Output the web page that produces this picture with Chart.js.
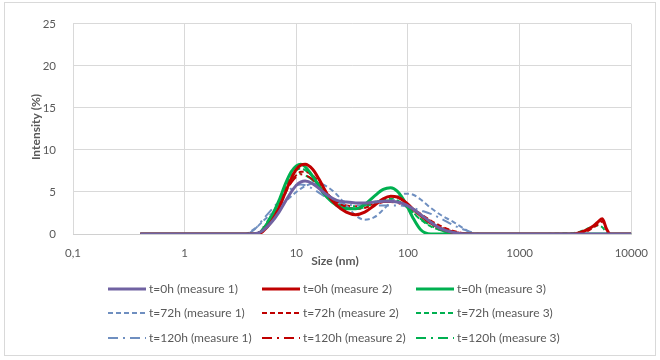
<!DOCTYPE html>
<html lang="en">
<head>
  <meta charset="UTF-8">
  <title>Intensity size distribution</title>
  <script src="https://cdn.jsdelivr.net/npm/chart.js"></script>
  <style>
    body {
      margin: 0;
      background: #fff;
    }
    .wrap {
      width: 660px;
      height: 360px;
      position: relative;
    }
  </style>
</head>
<body>

<div class="wrap">
  <canvas id="sizeChart" width="660" height="360"></canvas>
</div>

<script>
// size bins (nm)
const sizes = [0.4, 3, 3.5, 4, 4.5, 5, 6, 7, 8, 9, 10, 11, 12, 14, 16, 19, 23, 28, 34, 41, 50, 60, 70, 80, 95, 110, 130, 160, 200, 250, 320, 400, 500, 1000, 3000, 3500, 4000, 4500, 5000, 5500, 6000, 6500, 10000];

// intensity (%) per bin
const t0m1   = [0,0,0,0,0.1,0.4,1.4,2.6,3.9,5.0,5.8,6.2,6.3,6.0,5.4,4.6,4.0,3.8,3.7,3.7,3.8,3.9,3.9,3.8,3.5,3.0,2.3,1.4,0.6,0.2,0,0,0,0,0,0,0,0,0,0,0,0,0];
const t0m2   = [0,0,0,0,0,0.3,1.5,3.1,5.0,6.6,7.7,8.2,8.3,7.7,6.5,4.7,3.4,2.6,2.3,2.6,3.4,4.2,4.5,4.4,3.8,3.0,2.2,1.3,0.6,0.2,0,0,0,0,0,0.2,0.5,0.9,1.4,1.8,0.6,0,0];
const t0m3   = [0,0,0,0,0,0.5,2.1,4.0,6.0,7.4,8.1,8.3,8.0,6.9,5.7,4.3,3.4,3.0,3.0,3.5,4.5,5.3,5.5,5.1,3.7,2.0,0.5,0,0,0,0,0,0,0,0,0,0,0,0,0,0,0,0];
const t72m1  = [0,0,0,0.4,0.9,1.5,2.4,3.2,3.9,4.5,5.0,5.4,5.7,6.0,6.0,5.6,4.7,3.4,2.2,1.7,2.0,2.9,3.8,4.4,4.8,4.7,4.1,3.1,2.2,1.5,0.6,0,0,0,0,0,0,0,0,0,0,0,0];
const t72m2  = [0,0,0,0,0,0.5,1.8,3.3,4.9,6.2,7.0,7.4,7.4,7.0,6.1,4.8,3.8,3.2,3.0,3.1,3.5,3.8,3.9,3.8,3.5,3.0,2.4,1.6,0.9,0.4,0.1,0,0,0,0,0.1,0.3,0.7,1.1,1.5,0.5,0,0];
const t72m3  = [0,0,0,0,0,0.6,2.2,3.9,5.6,6.9,7.6,7.8,7.6,6.8,5.7,4.4,3.5,3.1,3.0,3.2,3.7,4.1,4.2,4.0,3.4,2.6,1.7,0.9,0.4,0.1,0,0,0,0,0.1,0.3,0.6,0.9,1.0,0.8,0.2,0,0];
const t120m1 = [0,0,0,0.3,0.9,1.7,2.9,3.9,4.8,5.4,5.8,5.9,5.8,5.4,4.9,4.3,3.8,3.5,3.4,3.4,3.4,3.4,3.4,3.4,3.3,3.1,2.8,2.4,1.8,1.1,0.5,0.1,0,0,0,0,0,0,0,0,0,0,0];
const t120m2 = [0,0,0,0,0.1,0.6,2.0,3.5,5.0,6.1,6.8,7.1,7.0,6.5,5.6,4.5,3.8,3.4,3.3,3.4,3.6,3.8,3.8,3.7,3.4,2.9,2.3,1.5,0.8,0.3,0.1,0,0,0,0,0,0,0,0,0,0,0,0];
const t120m3 = [0,0,0,0,0.1,0.7,2.3,3.8,5.3,6.4,7.0,7.2,7.0,6.4,5.4,4.3,3.6,3.3,3.3,3.5,3.8,4.0,4.0,3.8,3.3,2.6,1.8,1.0,0.4,0.1,0,0,0,0,0,0,0,0,0,0,0,0,0];

const xTicks = [0.1, 1, 10, 100, 1000, 10000];
const xTickLabels = ['0,1', '1', '10', '100', '1000', '10000'];
const yTicks = [0, 5, 10, 15, 20, 25];

const purple = '#7062a2';
const red = '#c00000';
const green = '#00b050';
const blue = '#6f8fc0';

const dashed = [5, 3];
const dashDot = [10, 5, 2, 5];

function series(label, values, color, width, dash) {
  return {
    label,
    data: sizes.map((s, i) => ({ x: s, y: values[i] })),
    borderColor: color,
    backgroundColor: color,
    borderWidth: width,
    borderDash: dash,
    pointRadius: 0,
    fill: false,
    cubicInterpolationMode: 'monotone'
  };
}

const datasets = [
  series('t=0h (measure 1)', t0m1, purple, 3, []),
  series('t=0h (measure 2)', t0m2, red, 3, []),
  series('t=0h (measure 3)', t0m3, green, 3, []),
  series('t=72h (measure 1)', t72m1, blue, 2, dashed),
  series('t=72h (measure 2)', t72m2, red, 2, dashed),
  series('t=72h (measure 3)', t72m3, green, 2, dashed),
  series('t=120h (measure 1)', t120m1, blue, 2, dashDot),
  series('t=120h (measure 2)', t120m2, red, 2, dashDot),
  series('t=120h (measure 3)', t120m3, green, 2, dashDot)
];

const FONT = 'Lato, "Open Sans", sans-serif';
const TEXT = '#595959';

// legend grid, axis titles and the outer frame
const extras = {
  id: 'extras',
  afterDraw(chart) {
    const ctx = chart.ctx;
    ctx.save();

    ctx.strokeStyle = '#d9d9d9';
    ctx.lineWidth = 1;
    ctx.strokeRect(4.5, 2.5, 651, 353);

    ctx.fillStyle = TEXT;
    ctx.font = 'bold 12px ' + FONT;
    ctx.textAlign = 'center';
    ctx.textBaseline = 'middle';
    ctx.fillText('Size (nm)', 335, 261);

    ctx.save();
    ctx.translate(36, 127);
    ctx.rotate(-Math.PI / 2);
    ctx.fillText('Intensity (%)', 0, 0);
    ctx.restore();

    const colX = [108, 262, 416];
    const rowY = [289, 313, 338];
    ctx.font = '12px ' + FONT;
    ctx.textAlign = 'left';
    chart.data.datasets.forEach((ds, i) => {
      const x = colX[i % 3];
      const y = rowY[Math.floor(i / 3)];
      ctx.beginPath();
      ctx.strokeStyle = ds.borderColor;
      ctx.lineWidth = ds.borderWidth;
      ctx.setLineDash(ds.borderDash);
      ctx.moveTo(x, y);
      ctx.lineTo(x + 38, y);
      ctx.stroke();
      ctx.setLineDash([]);
      ctx.fillStyle = TEXT;
      ctx.fillText(ds.label, x + 41, y);
    });

    ctx.restore();
  }
};

new Chart(document.getElementById('sizeChart'), {
  type: 'line',
  data: { datasets },
  plugins: [extras],
  options: {
    responsive: false,
    animation: false,
    layout: {
      padding: { left: 0, top: 19, right: 28, bottom: 0 }
    },
    plugins: {
      legend: { display: false },
      tooltip: { enabled: false }
    },
    scales: {
      x: {
        type: 'logarithmic',
        min: 0.1,
        max: 10000,
        afterBuildTicks: (scale) => {
          scale.ticks = xTicks.map(v => ({ value: v }));
        },
        afterFit: (scale) => { scale.height = 126; },
        ticks: {
          autoSkip: false,
          maxRotation: 0,
          padding: 12,
          color: TEXT,
          font: { family: FONT, size: 11.5 },
          callback: (value) => xTickLabels[xTicks.indexOf(value)]
        },
        grid: {
          color: '#d9d9d9',
          drawTicks: false
        },
        border: { color: '#d0d0d0' }
      },
      y: {
        min: 0,
        max: 25,
        afterBuildTicks: (scale) => {
          scale.ticks = yTicks.map(v => ({ value: v }));
        },
        afterFit: (scale) => { scale.width = 73; },
        ticks: {
          padding: 17,
          color: TEXT,
          font: { family: FONT, size: 11.5 }
        },
        grid: {
          color: '#d9d9d9',
          drawTicks: false
        },
        border: { display: false }
      }
    }
  }
});
</script>
</body>
</html>
